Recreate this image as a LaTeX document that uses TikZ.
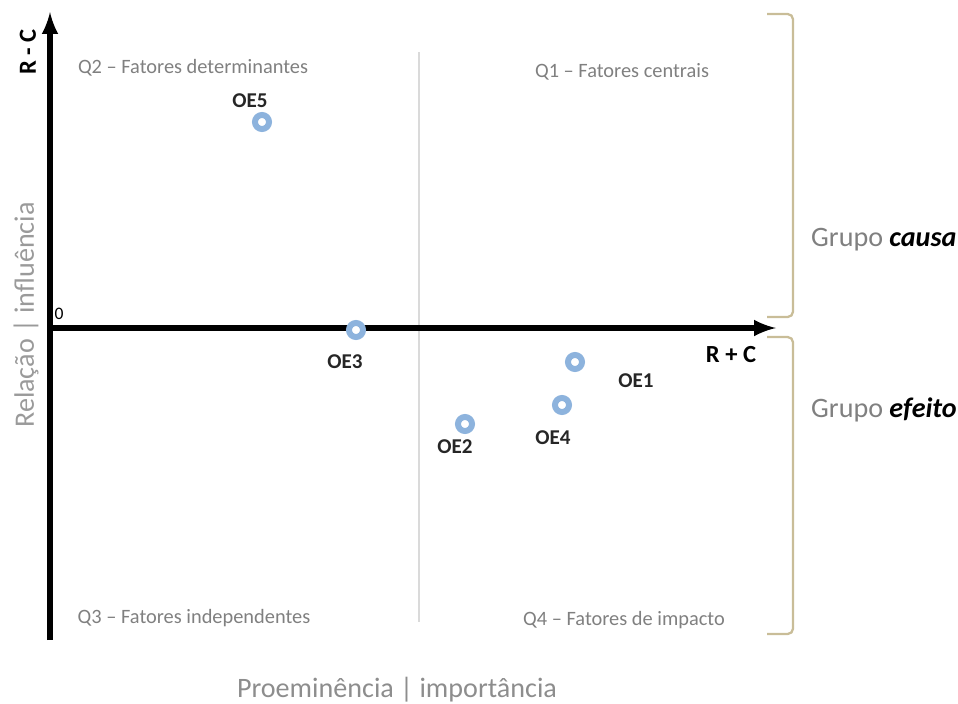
\documentclass[tikz,border=0pt]{standalone}
\usepackage{fontspec}
\setmainfont{Carlito}
\usepackage{tikz}
\usetikzlibrary{arrows}
\usetikzlibrary{positioning}
\definecolor{ponto}{HTML}{8DB3DD}
\definecolor{chave}{HTML}{C9BD98}
\definecolor{cinza}{HTML}{808080}
\definecolor{divisa}{HTML}{DADADA}
\tikzset{
	eixo/.style={->,>=latex, line width=3.2pt, black},
	ponto/.style={draw=ponto, fill=white, line width=3.4pt, circle, minimum size=8pt, inner sep=0pt},
	rotulo/.style={font=\bfseries\fontsize{12}{14}\selectfont, text=black!85},
	quadrante/.style={font=\fontsize{11.6}{13}\selectfont, text=cinza},
	grupo/.style={font=\fontsize{16}{19}\selectfont, text=cinza, anchor=west},
	chaveta/.style={chave, line width=1.3pt, rounded corners=3pt}
}
\begin{document}
\begin{tikzpicture}[x=0.02cm, y=-0.02cm]
		
		\useasboundingbox (0,0) rectangle (958,704);
		
		\coordinate (origem) at (47,328);
		\coordinate (fimx) at (776,328);
		\coordinate (inicioy) at (50,640);
		\coordinate (fimy) at (50,12);
		\coordinate (divtopo) at (419,52);
		\coordinate (divbase) at (419,622);
		
		
		\draw[divisa, line width=0.8pt] (divtopo) -- (divbase);
		
		
		\draw[eixo] (origem) -- (fimx);
		\draw[eixo] (inicioy) -- (fimy);
		
		
		\node (rc) at (28,52)[rotate=90, font=\bfseries\fontsize{14}{16}\selectfont] {R - C};
		\node (rel) at (26,315)[rotate=90, font=\fontsize{16}{19}\selectfont, text=cinza!80] {Relação | influência};
		\node (zero) at (59,314)[font=\fontsize{10}{12}\selectfont] {0};
		\node (rmc) at (731,355)[font=\bfseries\fontsize{14}{16}\selectfont] {R + C};
		\node (prom) at (397,690)[font=\fontsize{16}{19}\selectfont, text=cinza!90] {Proeminência | importância};
		
		
		\node (q2) at (193,68)[quadrante] {Q2 – Fatores determinantes};
		\node (q1) at (622,72)[quadrante] {Q1 – Fatores centrais};
		\node (q3) at (194,618)[quadrante] {Q3 – Fatores independentes};
		\node (q4) at (624,620)[quadrante] {Q4 – Fatores de impacto};
		
		
		\node (oe5) at (262,122)[ponto] {};
		\node (oe3) at (356,330)[ponto] {};
		\node (oe1) at (575,362)[ponto] {};
		\node (oe4) at (562,405)[ponto] {};
		\node (oe2) at (465,424)[ponto] {};
		\node at (250,101)[rotulo] {OE5};
		\node at (345,362)[rotulo] {OE3};
		\node at (636,381)[rotulo] {OE1};
		\node at (553,438)[rotulo] {OE4};
		\node at (455,447)[rotulo] {OE2};
		
		
		\draw[chaveta] (767,14) -- (793,14) -- (793,317) -- (767,317);
		\draw[chaveta] (767,337) -- (793,337) -- (793,634) -- (767,634);
		\node (causa) at (805,240)[grupo] {Grupo \textcolor{black}{\bfseries\itshape causa}};
		\node (efeito) at (805,410)[grupo] {Grupo \textcolor{black}{\bfseries\itshape efeito}};
		
	\end{tikzpicture}
\end{document}
